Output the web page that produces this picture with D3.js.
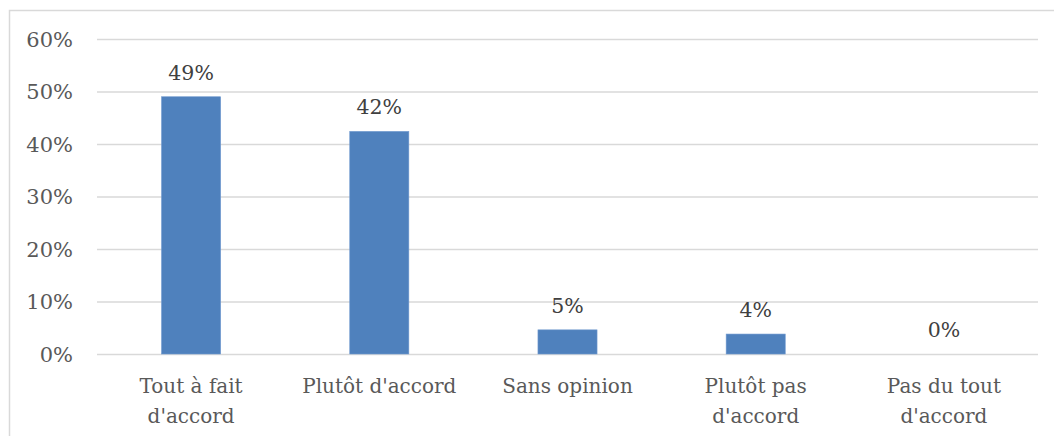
<!DOCTYPE html>
<html>
<head>
<meta charset="utf-8">
<script src="https://cdn.jsdelivr.net/npm/d3@7"></script>
<style>
  html, body { margin: 0; padding: 0; background: #fff; }
  svg { display: block; }
  text { font-family: "DejaVu Serif", "Liberation Serif", serif; fill: #595959; }
</style>
</head>
<body>
<svg id="chart" width="1054" height="436"></svg>
<script>
// Survey answers and their shares
const categories = [
  ["Tout à fait", "d'accord"],
  ["Plutôt d'accord"],
  ["Sans opinion"],
  ["Plutôt pas", "d'accord"],
  ["Pas du tout", "d'accord"]
];
const shares = [0.49, 0.424, 0.046, 0.038, 0];
const yTicks = [0, 0.1, 0.2, 0.3, 0.4, 0.5, 0.6];

const W = 1054, H = 436;
const margin = { left: 97, right: 16, top: 39, bottom: 82 };
const svg = d3.select("#chart");

// chart frame
svg.append("rect")
  .attr("x", 9.5).attr("y", 10.5)
  .attr("width", W).attr("height", H)
  .attr("fill", "none")
  .attr("stroke", "#d9d9d9")
  .attr("stroke-width", 1.5);

const x = d3.scaleBand()
  .domain(categories.map((d, i) => i))
  .range([margin.left, W - margin.right])
  .paddingInner(0.686)
  .paddingOuter(0.343);

const y = d3.scaleLinear()
  .domain([0, 0.6])
  .range([H - margin.bottom, margin.top]);

const fmt = d3.format(".0%");

// y axis: gridlines and percentage labels
const yAxis = d3.axisLeft(y)
  .tickValues(yTicks)
  .tickFormat(fmt)
  .tickSize(-(W - margin.right - margin.left))
  .tickPadding(24);

const gy = svg.append("g")
  .attr("transform", `translate(${margin.left},0)`)
  .call(yAxis);
gy.select(".domain").remove();
gy.selectAll(".tick line")
  .attr("stroke", "#d9d9d9")
  .attr("stroke-width", 1.5);
gy.selectAll(".tick text")
  .attr("font-size", 21)
  .attr("fill", "#595959")
  .attr("dy", "0.35em")
  .style("font-family", '"DejaVu Serif", "Liberation Serif", serif');

// bars
svg.append("g").selectAll("rect")
  .data(shares)
  .join("rect")
  .attr("x", (d, i) => x(i))
  .attr("width", x.bandwidth())
  .attr("y", d => y(d))
  .attr("height", d => y(0) - y(d))
  .attr("fill", "#4f81bd")
  .attr("stroke", "#6f99cf")
  .attr("stroke-width", 0.6);

// value labels above bars
svg.append("g").selectAll("text")
  .data(shares)
  .join("text")
  .attr("x", (d, i) => x(i) + x.bandwidth() / 2)
  .attr("y", d => y(d) - 17)
  .attr("text-anchor", "middle")
  .attr("font-size", 20.5)
  .style("fill", "#404040")
  .text(d => fmt(d));

// category labels (wrapped over two lines where needed)
const cat = svg.append("g").selectAll("text")
  .data(categories)
  .join("text")
  .attr("x", (d, i) => x(i) + x.bandwidth() / 2)
  .attr("y", 393)
  .attr("text-anchor", "middle")
  .attr("font-size", 20);
cat.selectAll("tspan")
  .data(d => d)
  .join("tspan")
  .attr("x", function () { return this.parentNode.getAttribute("x"); })
  .attr("dy", (d, i) => i === 0 ? 0 : 29.5)
  .text(d => d);
</script>
</body>
</html>
